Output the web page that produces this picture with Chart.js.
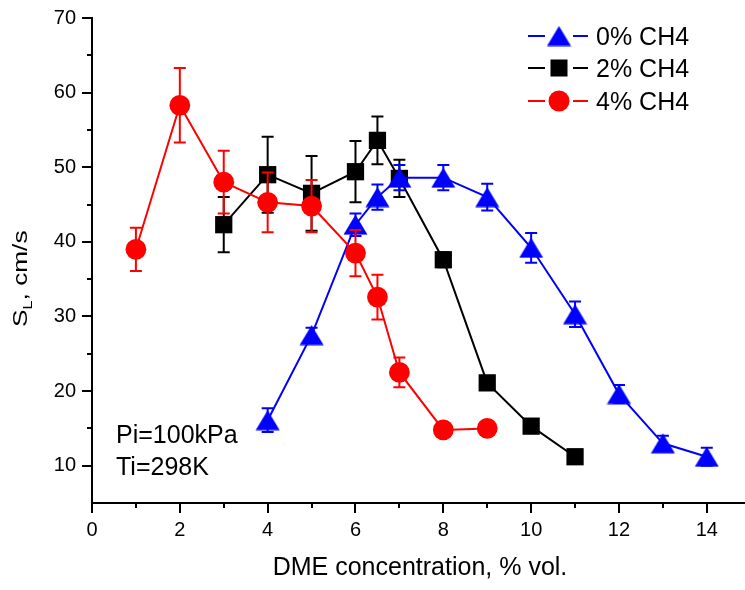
<!DOCTYPE html>
<html>
<head>
<meta charset="utf-8">
<script src="https://cdn.jsdelivr.net/npm/chart.js@4.4.1/dist/chart.umd.min.js"></script>
<style>
  html, body { margin: 0; padding: 0; background: #fff; }
  #wrap { width: 745px; height: 590px; }
</style>
</head>
<body>
<div id="wrap"><canvas id="myChart" width="745" height="590"></canvas></div>
<script>
// DME concentration (% vol.) and laminar burning velocity S_L (cm/s)
const xCH4_0 = [4, 5, 6, 6.5, 7, 8, 9, 10, 11, 12, 13, 14];
const yCH4_0 = [16.1, 27.5, 42.3, 46, 48.6, 48.6, 46, 39.2, 30.3, 19.6, 13, 11.2];
const eCH4_0 = [1.6, 1, 1.5, 1.7, 1.7, 1.7, 1.8, 2, 1.7, 1.2, 1, 1.2];

const xCH4_2 = [3, 4, 5, 6, 6.5, 7, 8, 9, 10, 11];
const yCH4_2 = [42.3, 49, 46.5, 49.4, 53.6, 48.5, 37.6, 21.1, 15.3, 11.2];
const eCH4_2 = [3.7, 5.1, 5, 4.1, 3.2, 2.5, 1, 0.5, 0.5, 0.5];

const xCH4_4 = [1, 2, 3, 4, 5, 6, 6.5, 7, 8, 9];
const yCH4_4 = [39, 58.3, 48, 45.3, 44.8, 38.5, 32.6, 22.5, 14.8, 15];
const eCH4_4 = [2.9, 5, 4.2, 4, 3.5, 3.1, 3, 2, 0.5, 0.5];

const seriesLabels = ['0% CH4', '2% CH4', '4% CH4'];
const xTicks = [0, 1, 2, 3, 4, 5, 6, 7, 8, 9, 10, 11, 12, 13, 14];
const yTicks = [5, 10, 15, 20, 25, 30, 35, 40, 45, 50, 55, 60, 65, 70];
const notes = ['Pi=100kPa', 'Ti=298K'];

const FONT = '"Liberation Sans", Arial, sans-serif';

// triangle marker centred on its box (like Origin)
function makeTriangle(color, w, h) {
    const c = document.createElement('canvas');
    c.width = w; c.height = h;
    const g = c.getContext('2d');
    g.fillStyle = color;
    g.beginPath();
    g.moveTo(w / 2, 0.5);
    g.lineTo(w - 0.5, h - 0.5);
    g.lineTo(0.5, h - 0.5);
    g.closePath();
    g.fill();
    return c;
}
const triBlue = makeTriangle('#0000ff', 25, 21);

const pts = (xs, ys) => xs.map((x, i) => ({ x: x, y: ys[i] }));

// error bars, drawn just before each dataset so markers sit on top
const errorBars = {
    id: 'errorBars',
    beforeDatasetDraw(chart, args) {
        const ds = chart.data.datasets[args.index];
        if (!ds.errors) return;
        const xs = chart.scales.x, ys = chart.scales.y, c = chart.ctx;
        c.save();
        c.strokeStyle = ds.borderColor;
        c.lineWidth = 2;
        ds.data.forEach((p, i) => {
            const e = ds.errors[i];
            const px = xs.getPixelForValue(p.x);
            const t = ys.getPixelForValue(p.y + e);
            const b = ys.getPixelForValue(p.y - e);
            c.beginPath();
            c.moveTo(px, t); c.lineTo(px, b);
            c.moveTo(px - 6, t); c.lineTo(px + 6, t);
            c.moveTo(px - 6, b); c.lineTo(px + 6, b);
            c.stroke();
        });
        c.restore();
    }
};

// tick marks, axis titles, legend and notes
const decorations = {
    id: 'decorations',
    afterDraw(chart) {
        const c = chart.ctx, xs = chart.scales.x, ys = chart.scales.y;
        const area = chart.chartArea;
        c.save();
        c.strokeStyle = '#000';
        c.lineWidth = 2;
        c.beginPath();
        xTicks.forEach(v => {
            const px = Math.round(xs.getPixelForValue(v));
            const len = v % 2 === 0 ? 10 : 5;
            c.moveTo(px, area.bottom); c.lineTo(px, area.bottom + len);
        });
        yTicks.forEach(v => {
            if (v === 5) return;
            const py = Math.round(ys.getPixelForValue(v));
            const len = v % 10 === 0 ? 10 : 5;
            c.moveTo(area.left, py); c.lineTo(area.left - len, py);
        });
        c.stroke();

        // x title
        c.fillStyle = '#000';
        c.font = '25px ' + FONT;
        c.textAlign = 'center';
        c.textBaseline = 'middle';
        c.fillText('DME concentration, % vol.', 420, 568);

        // y title with subscript
        c.save();
        c.translate(27, 327);
        c.rotate(-Math.PI / 2);
        c.scale(1.25, 1);
        c.textAlign = 'left';
        c.textBaseline = 'alphabetic';
        c.font = '21px ' + FONT;
        c.fillText('S', 0, 0);
        let w = c.measureText('S').width;
        c.font = '13px ' + FONT;
        c.fillText('L', w, 5);
        w += c.measureText('L').width;
        c.font = '21px ' + FONT;
        c.fillText(', cm/s', w, 0);
        c.restore();

        // notes
        c.font = '25px ' + FONT;
        c.textAlign = 'left';
        c.textBaseline = 'middle';
        c.fillText(notes[0], 116, 436);
        c.fillText(notes[1], 116, 468);

        // legend
        const rows = [36, 68, 101];
        chart.data.datasets.forEach((ds, i) => {
            const y = rows[i];
            c.strokeStyle = ds.borderColor;
            c.lineWidth = 2;
            c.beginPath();
            c.moveTo(528, y); c.lineTo(545, y);
            c.moveTo(573, y); c.lineTo(588, y);
            c.stroke();
            c.fillStyle = ds.backgroundColor;
            if (ds.pointStyle === 'rect') {
                c.fillRect(559 - 8.5, y - 8.5, 17, 17);
            } else if (ds.pointStyle === 'circle') {
                c.beginPath(); c.arc(559, y, 10.5, 0, Math.PI * 2); c.fill();
            } else {
                c.drawImage(ds.pointStyle, 559 - 12.5, y - 10.5);
            }
            c.fillStyle = '#000';
            c.font = '25px ' + FONT;
            c.fillText(ds.label, 596, y + 2);
        });
        c.restore();
    }
};

const ctx = document.getElementById('myChart').getContext('2d');
new Chart(ctx, {
    type: 'line',
    data: {
        datasets: [
            {
                label: seriesLabels[0], data: pts(xCH4_0, yCH4_0), errors: eCH4_0,
                borderColor: '#0000ff', backgroundColor: '#0000ff',
                pointStyle: triBlue, order: 1
            },
            {
                label: seriesLabels[1], data: pts(xCH4_2, yCH4_2), errors: eCH4_2,
                borderColor: '#000000', backgroundColor: '#000000',
                pointStyle: 'rect', pointRadius: 12.2, order: 2
            },
            {
                label: seriesLabels[2], data: pts(xCH4_4, yCH4_4), errors: eCH4_4,
                borderColor: '#ff0000', backgroundColor: '#ff0000',
                pointStyle: 'circle', pointRadius: 10.4, order: 0
            }
        ]
    },
    options: {
        responsive: false,
        animation: false,
        devicePixelRatio: 1,
        layout: { autoPadding: false, padding: { top: 18, right: 0, left: 0, bottom: 0 } },
        elements: {
            line: { borderWidth: 2, tension: 0, fill: false },
            point: { borderWidth: 0, hoverRadius: 0 }
        },
        plugins: { legend: { display: false }, tooltip: { enabled: false } },
        scales: {
            x: {
                type: 'linear', min: 0, max: 14.87,
                afterBuildTicks: s => { s.ticks = xTicks.map(v => ({ value: v })); },
                afterFit: s => { s.height = 87; s.paddingLeft = 0; s.paddingRight = 0; },
                grid: { display: false, drawTicks: false },
                border: { display: true, color: '#000', width: 2 },
                ticks: {
                    autoSkip: false, maxRotation: 0, padding: 15, color: '#000',
                    font: { family: FONT, size: 20 },
                    callback: v => (v % 2 === 0 ? v : '')
                }
            },
            y: {
                min: 5, max: 70,
                afterBuildTicks: s => { s.ticks = yTicks.map(v => ({ value: v })); },
                afterFit: s => { s.width = 92; s.paddingTop = 0; s.paddingBottom = 0; },
                grid: { display: false, drawTicks: false },
                border: { display: true, color: '#000', width: 2 },
                ticks: {
                    autoSkip: false, padding: 16, color: '#000',
                    font: { family: FONT, size: 20 },
                    callback: v => (v % 10 === 0 ? v : '')
                }
            }
        }
    },
    plugins: [errorBars, decorations]
});
</script>
</body>
</html>
